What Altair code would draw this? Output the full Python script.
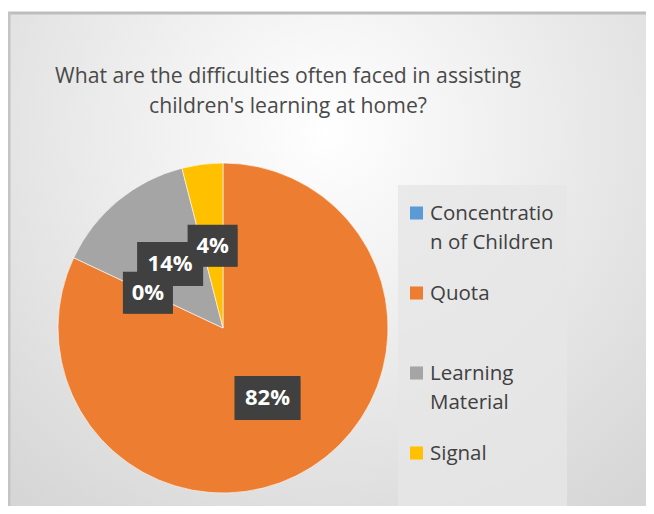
import altair as alt
import pandas as pd
import numpy as np

# ---- data ----
categories = ["Concentration of Children", "Quota", "Learning Material", "Signal"]
shares = [0, 82, 14, 4]
legend_labels = ["Concentratio\nn of Children", "Quota", "Learning\nMaterial", "Signal"]
colors = ["#5B9BD5", "#ED7D31", "#A5A5A5", "#FFC000"]
title_text = "What are the difficulties often faced in assisting\nchildren's learning at home?"

# ---- layout (plot-area pixel units) ----
W, H = 638, 494
CX, CY, R = 215, 316, 165
LABEL_R = 83
FONT = "Open Sans"

df = pd.DataFrame({
    "category": categories,
    "share": shares,
    "order": list(range(len(categories))),
    "legend": legend_labels,
})
df["label"] = df["share"].astype(str) + "%"
total = df["share"].sum()
cum = df["share"].cumsum()
start = (cum - df["share"]) / total * 360
end = cum / total * 360
mid = (start + end) / 2
# a zero-size slice gets its label pushed to the end of the largest slice (best fit)
mid = mid.where(df["share"] > 0, end[df["share"].idxmax()])
rad = np.radians(mid)
df["lx"] = CX + LABEL_R * np.sin(rad)
df["ly"] = CY - LABEL_R * np.cos(rad)
long_lab = df["label"].str.len() > 2
hw = np.where(long_lab, 33, 25)
hh = np.where(long_lab, 22, 21)
df["bx1"] = df["lx"] - hw
df["bx2"] = df["lx"] + hw
df["by1"] = df["ly"] - hh
df["by2"] = df["ly"] + hh
df["legy"] = 201 + 80 * df["order"]

xs = alt.Scale(domain=[0, W], nice=False, zero=False)
ys = alt.Scale(domain=[0, H], nice=False, zero=False, reverse=True)


def X(field=None, datum=None):
    if datum is not None:
        return alt.X(datum=datum, type="quantitative", scale=xs, axis=None)
    return alt.X(field, type="quantitative", scale=xs, axis=None)


def Y(field=None, datum=None):
    if datum is not None:
        return alt.Y(datum=datum, type="quantitative", scale=ys, axis=None)
    return alt.Y(field, type="quantitative", scale=ys, axis=None)


base = alt.Chart(df)
one = alt.Chart(pd.DataFrame({"t": [title_text]}))

bg = one.mark_rect(
    fill=alt.RadialGradient(
        gradient="radial",
        stops=[alt.GradientStop(offset=0, color="#ffffff"),
               alt.GradientStop(offset=1, color="#d6d6d6")],
        x1=0.5, y1=0.3, x2=0.5, y2=0.3, r1=0, r2=0.75,
    )
).encode(x=X(datum=0), x2=alt.X2(datum=W), y=Y(datum=0), y2=alt.Y2(datum=H))

border_top = one.mark_rule(color="#bdbdbd", strokeWidth=3).encode(
    x=X(datum=0), x2=alt.X2(datum=W), y=Y(datum=1))
border_left = one.mark_rule(color="#c4c4c4", strokeWidth=3).encode(
    x=X(datum=1), y=Y(datum=0), y2=alt.Y2(datum=H))

title = one.mark_text(
    font=FONT, fontSize=21.2, color="#4a4a4a", lineBreak="\n", lineHeight=30,
    align="center", baseline="middle",
).encode(x=X(datum=280), y=Y(datum=65), text="t:N")

pie = base.mark_arc(outerRadius=R, stroke="white", strokeWidth=1, strokeOpacity=0.6).encode(
    x=X(datum=CX),
    y=Y(datum=CY),
    theta=alt.Theta("share:Q", stack=True),
    order=alt.Order("order:Q"),
    color=alt.Color("category:N", scale=alt.Scale(domain=categories, range=colors), legend=None),
)

shadow = base.mark_rect(color="black", opacity=0.3, xOffset=3, yOffset=4).encode(
    x=X("bx1"), x2="bx2", y=Y("by1"), y2="by2")
boxes = base.mark_rect(color="#404040").encode(
    x=X("bx1"), x2="bx2", y=Y("by1"), y2="by2")
labels = base.mark_text(
    font=FONT, fontSize=22, fontWeight="bold", color="white",
    align="center", baseline="middle",
).encode(x=X("lx"), y=Y("ly"), text="label:N")

legend_box = one.mark_rect(color="#e6e6e6", opacity=0.8).encode(
    x=X(datum=390), x2=alt.X2(datum=559), y=Y(datum=173), y2=alt.Y2(datum=498))
leg_sym = base.mark_square(size=170, opacity=1, filled=True).encode(
    x=X(datum=408.5),
    y=Y("legy"),
    color=alt.Color("category:N", scale=alt.Scale(domain=categories, range=colors), legend=None),
)
leg_txt = base.mark_text(
    font=FONT, fontSize=20.5, color="#404040", lineBreak="\n", lineHeight=29,
    align="left", baseline="alphabetic", dy=7,
).encode(x=X(datum=422), y=Y("legy"), text="legend:N")

chart = alt.layer(
    bg, border_top, border_left, title, pie, shadow, boxes, labels,
    legend_box, leg_sym, leg_txt,
).properties(
    width=W, height=H,
    autosize=alt.AutoSizeParams(type="none"),
    padding={"top": 4, "left": 0, "right": 0, "bottom": 0},
).configure_view(stroke=None)

chart.save("out.html", embed_options={"renderer": "svg", "actions": False})
